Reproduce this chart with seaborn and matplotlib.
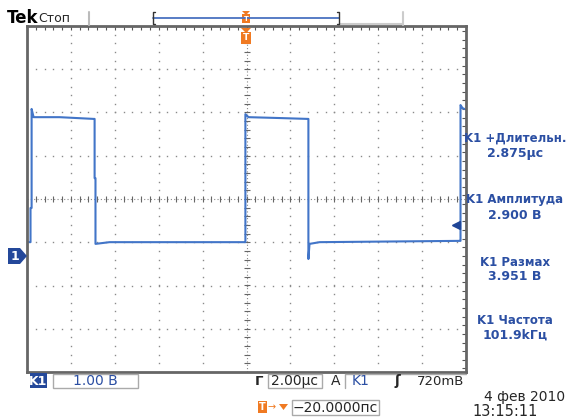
import numpy as np
import matplotlib
matplotlib.use("Agg")
import matplotlib.pyplot as plt
from matplotlib.patches import Rectangle, Polygon
from matplotlib.ticker import MultipleLocator
import seaborn as sns

# --- данные осциллограммы (время, мкс / напряжение, В) ---
t_us = [-9.98, -9.84, -9.84, -9.79, -9.79, -9.70, -8.52, -6.97, -6.92, -6.92,
        -6.88, -6.88, -6.24, -0.09, -0.05, -0.05, 0.09, 1.50, 2.78, 2.82,
        2.82, 2.87, 3.33, 9.70, 9.75, 9.75, 9.84, 9.93]
v_volt = [0.32, 0.32, 1.11, 1.11, 3.40, 3.21, 3.21, 3.17, 3.17, 1.80,
          1.80, 0.28, 0.32, 0.32, 0.32, 3.28, 3.21, 3.19, 3.17, 3.17,
          -0.07, 0.28, 0.32, 0.35, 0.35, 3.49, 3.42, 3.40]

meas_names = ["K1 +Длительн.", "K1 Амплитуда", "K1 Размах", "K1 Частота"]
meas_values = ["2.875µс", "2.900 В", "3.951 В", "101.9kГц"]

volts_div = 1.0
time_div = 2.0
ground_offset = 1.318   # делений ниже центра
trig_level = 0.72

W, H = 568, 419
def fx(x): return x / W
def fy(y): return 1 - y / H

blue_txt = "#2b4fa3"
trace_col = "#4275c8"
orange = "#f07a22"

sns.set_style("white")
plt.rcParams['font.family'] = ['DejaVu Sans']

fig = plt.figure(figsize=(W / 100, H / 100), dpi=100)
fig.patch.set_facecolor("white")
ax = fig.add_axes([fx(27), fy(372), (466 - 27) / W, (372 - 26) / H])

center_v = ground_offset * volts_div
ax.set_xlim(-5 * time_div, 5 * time_div)
ax.set_ylim(center_v - 4 * volts_div, center_v + 4 * volts_div)

# графическая сетка: точки через 1/5 деления
gcol = "#8a8a8a"
ys = np.arange(center_v - 4, center_v + 4.001, 0.2)
xs = np.arange(-10, 10.001, 0.4)
for k in range(-4, 5):
    if k == 0:
        continue
    ax.plot(np.full_like(ys, k * time_div), ys, ls="none", marker="s",
            ms=1.0, color=gcol, mew=0)
for k in range(-3, 4):
    if k == 0:
        continue
    ax.plot(xs, np.full_like(xs, center_v + k), ls="none", marker="s",
            ms=1.0, color=gcol, mew=0)
# центральные оси с делениями
ax.axhline(center_v, color=gcol, lw=0.8, ls=(0, (1, 2)))
ax.axvline(0, color=gcol, lw=0.8, ls=(0, (1, 2)))
ax.plot(xs, np.full_like(xs, center_v), ls="none", marker="|", ms=4,
        color="#666666", mew=0.8)
ax.plot(np.zeros_like(ys), ys, ls="none", marker="_", ms=4,
        color="#666666", mew=0.8)

# рамка
for s in ax.spines.values():
    s.set_color("#666666")
    s.set_linewidth(2.0)
ax.xaxis.set_major_locator(MultipleLocator(time_div))
ax.xaxis.set_minor_locator(MultipleLocator(0.4))
ax.yaxis.set_major_locator(MultipleLocator(1.0))
ax.yaxis.set_minor_locator(MultipleLocator(0.2))
ax.tick_params(which="both", direction="in", length=3, width=0.8,
               color="#555555", top=True, right=True,
               labelbottom=False, labelleft=False)

# сигнал
sns.lineplot(x=t_us, y=v_volt, sort=False, estimator=None, ax=ax,
             color=trace_col, linewidth=1.5)
ax.set_xlabel("")
ax.set_ylabel("")

# маркер уровня запуска
ax.plot([9.55], [trig_level], marker="<", ms=6, color="#1f4597",
        clip_on=False)

# маркер канала 1
yc = 256
fig.patches.append(Polygon([(fx(8), fy(yc - 8)), (fx(20), fy(yc - 8)),
                            (fx(27), fy(yc)), (fx(20), fy(yc + 8)),
                            (fx(8), fy(yc + 8))],
                           closed=True, transform=fig.transFigure,
                           facecolor="#24489a", edgecolor="none"))
fig.text(fx(15), fy(yc), "1", color="white", fontsize=9, fontweight="bold",
         ha="center", va="center")

# верхняя строка
fig.text(fx(7), fy(18), "Tek", fontsize=12, fontweight="bold",
         ha="left", va="center", color="black")
fig.text(fx(38), fy(18), "Стоп", fontsize=9, ha="left", va="center")
fig.lines.append(plt.Line2D([fx(89), fx(89)], [fy(12), fy(25)],
                            transform=fig.transFigure, color="#bbbbbb", lw=1.5))
fig.lines.append(plt.Line2D([fx(403), fx(403)], [fy(12), fy(25)],
                            transform=fig.transFigure, color="#cccccc", lw=1.5))
fig.lines.append(plt.Line2D([fx(340), fx(403)], [fy(24.5), fy(24.5)],
                            transform=fig.transFigure, color="#cccccc", lw=1.5))
fig.lines.append(plt.Line2D([fx(153), fx(339)], [fy(18), fy(18)],
                            transform=fig.transFigure, color="#4a72c0", lw=1.3))
for xb, d in [(153, 1), (339, -1)]:
    fig.lines.append(plt.Line2D([fx(xb + 2 * d), fx(xb), fx(xb), fx(xb + 2 * d)],
                                [fy(12), fy(12), fy(24), fy(24)],
                                transform=fig.transFigure, color="#333333", lw=1))

# маркеры запуска (оранжевые T)
def t_marker(xc, ytop, size, tri):
    h = size
    fig.patches.append(Polygon([(fx(xc - tri), fy(ytop)), (fx(xc + tri), fy(ytop)),
                                (fx(xc), fy(ytop + tri))],
                               closed=True, transform=fig.transFigure,
                               facecolor=orange, edgecolor="none"))
    fig.patches.append(Rectangle((fx(xc - h * 0.45), fy(ytop + tri * 0.8 + h)),
                                 h * 0.9 / W, h / H, transform=fig.transFigure,
                                 facecolor=orange, edgecolor="none"))
    fig.text(fx(xc), fy(ytop + tri * 0.8 + h / 2), "T", color="white",
             fontsize=h * 0.55, fontweight="bold", ha="center", va="center")

t_marker(246, 11, 9, 4)
t_marker(246, 28, 12, 5)

# результаты измерений справа
for i, (name, val) in enumerate(zip(meas_names, meas_values)):
    y0 = [138, 200, 262, 320][i]
    fig.text(fx(515), fy(y0), name, color=blue_txt, fontsize=8.5,
             fontweight="bold", ha="center", va="center")
    fig.text(fx(515), fy(y0 + 15), val, color=blue_txt, fontsize=9,
             fontweight="bold", ha="center", va="center")

# нижняя строка
fig.patches.append(Rectangle((fx(30), fy(388)), 17 / W, 15 / H,
                             transform=fig.transFigure, facecolor="#24489a",
                             edgecolor="none"))
fig.text(fx(38.5), fy(381), "K1", color="white", fontsize=9,
         fontweight="bold", ha="center", va="center")

def box(x0, x1, y0, y1):
    fig.patches.append(Rectangle((fx(x0), fy(y1)), (x1 - x0) / W, (y1 - y0) / H,
                                 transform=fig.transFigure, facecolor="none",
                                 edgecolor="#aaaaaa", lw=1))

box(53, 138, 374, 388)
fig.text(fx(95), fy(381), "1.00 В", color=blue_txt, fontsize=10,
         ha="center", va="center")
fig.text(fx(259), fy(381), "Г", fontsize=9.5, fontweight="bold",
         ha="center", va="center")
box(268, 322, 374, 388)
fig.text(fx(295), fy(381), "2.00µс", fontsize=10, ha="center", va="center")
fig.text(fx(336), fy(381), "A", fontsize=10, ha="center", va="center")
fig.lines.append(plt.Line2D([fx(345), fx(345), fx(466)], [fy(388), fy(374), fy(374)],
                            transform=fig.transFigure, color="#aaaaaa", lw=1))
fig.text(fx(361), fy(381), "K1", color=blue_txt, fontsize=10,
         ha="center", va="center")
fig.text(fx(397), fy(381), "ʃ", fontsize=10, fontweight="bold",
         ha="center", va="center")
fig.text(fx(464), fy(381), "720mВ", fontsize=9.5, ha="right", va="center")

fig.text(fx(565), fy(397), "4 фев 2010", fontsize=10, ha="right", va="center")
fig.text(fx(472), fy(411), "13:15:11", fontsize=10.5, ha="left", va="center")

# смещение запуска
fig.patches.append(Rectangle((fx(258), fy(413)), 9 / W, 12 / H,
                             transform=fig.transFigure, facecolor=orange,
                             edgecolor="none"))
fig.text(fx(262.5), fy(407), "T", color="white", fontsize=7,
         fontweight="bold", ha="center", va="center")
fig.text(fx(272), fy(407), "→", color=orange, fontsize=7,
         ha="center", va="center")
fig.patches.append(Polygon([(fx(279), fy(404)), (fx(288), fy(404)),
                            (fx(283.5), fy(410))], closed=True,
                           transform=fig.transFigure, facecolor=orange,
                           edgecolor="none"))
box(292, 379, 400, 415)
fig.text(fx(335), fy(407.5), "−20.0000пс", fontsize=10,
         ha="center", va="center")

fig.savefig("out.png", dpi=100)
